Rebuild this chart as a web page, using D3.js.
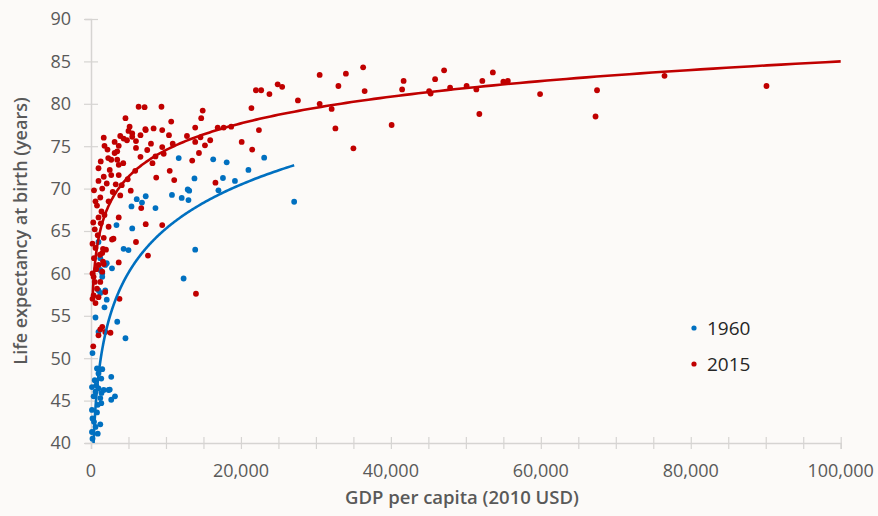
<!DOCTYPE html>
<html><head><meta charset="utf-8">
<script src="https://cdn.jsdelivr.net/npm/d3@7"></script>
<style>
html,body{margin:0;padding:0;background:#fcfaf8;}
svg{display:block;}
</style></head><body>
<svg id="chart" width="878" height="516"></svg>
<script>
// ---- data (GDP per capita in 2010 USD, life expectancy in years) ----
const points1960 = [[27100,68.45],[23100,73.65],[21000,72.2],[19200,70.9],[18100,73.1],[17600,71.25],[17000,69.8],[16300,73.45],[13900,62.8],[13800,71.2],[13100,69.75],[12900,69.9],[13000,68.65],[12350,59.4],[12100,68.9],[11700,73.6],[10800,69.25],[8600,67.7],[7300,69.1],[6800,68.35],[6100,68.75],[5500,65.3],[5400,67.9],[5000,62.75],[4600,52.35],[4350,62.9],[3500,54.3],[3400,65.7],[3200,45.5],[2800,60.6],[2700,47.8],[2700,45.1],[2500,46.3],[2350,46.25],[2100,61.2],[2100,56.9],[1900,61.0],[1900,58.0],[1800,56.0],[1700,46.25],[1500,60.0],[1500,59.6],[1500,48.7],[1370,47.6],[1370,44.7],[1240,61.8],[1240,57.7],[1240,45.3],[1240,42.2],[1240,60.4],[1000,63.7],[1000,58.0],[1000,53.1],[1000,48.2],[1000,46.45],[900,41.1],[800,48.8],[800,43.6],[600,54.8],[600,46.05],[600,41.9],[500,47.4],[350,45.5],[200,50.6],[200,42.9],[200,40.5],[130,46.6],[130,43.9],[130,41.3],[1100,48.6],[700,46.8],[1400,45.9],[900,44.5],[400,42.5]];
const points2015 = [[90100,82.1],[76500,83.3],[67500,81.6],[67300,78.5],[59900,81.15],[55000,82.6],[55600,82.7],[53600,83.7],[52200,82.7],[51800,78.8],[51400,81.7],[50100,82.1],[47900,81.9],[47100,83.95],[45900,82.9],[45300,81.2],[45100,81.5],[41700,82.7],[41500,81.7],[40100,77.5],[36500,81.5],[36300,84.3],[35000,74.75],[34000,83.55],[33000,82.1],[32600,77.1],[32100,79.4],[30500,80.0],[30500,83.4],[27600,80.4],[25500,82.0],[24900,82.3],[23800,81.15],[22700,81.6],[22000,81.6],[22400,76.9],[21500,74.6],[21400,79.5],[20100,75.5],[18700,77.3],[17700,77.2],[16900,77.2],[16600,70.7],[15900,75.7],[15200,75.1],[14900,79.2],[14700,78.3],[14600,76.05],[14400,74.2],[14000,57.6],[13900,77.2],[13900,75.5],[13500,73.3],[12800,76.2],[11100,71.0],[10900,75.3],[10700,77.9],[10500,72.1],[10400,76.3],[9500,76.9],[9500,74.9],[9700,74.1],[9500,65.7],[9400,79.65],[8700,71.3],[8600,73.8],[8350,77.1],[8200,73.0],[8000,75.3],[7600,62.1],[7500,74.55],[7300,76.9],[7300,65.8],[7150,79.6],[7250,77.0],[6700,67.7],[6600,76.3],[6600,73.75],[6350,79.65],[6000,75.6],[6000,74.8],[6000,63.7],[5900,72.1],[5500,76.1],[5500,76.5],[5300,69.75],[5150,77.3],[5000,76.8],[4900,71.1],[4800,75.7],[4600,78.3],[4350,75.9],[4100,70.4],[3900,76.2],[3900,69.2],[3800,57.0],[3700,75.05],[3700,72.8],[3700,71.6],[3700,66.6],[3700,61.3],[3500,74.4],[3500,73.4],[3150,75.5],[3150,74.2],[3000,64.1],[2900,69.6],[2700,73.4],[2700,71.6],[2600,53.0],[2350,65.5],[2350,68.5],[2300,73.6],[2100,70.6],[1900,53.1],[1800,75.05],[1700,76.0],[1700,71.4],[1600,61.4],[1500,70.0],[1500,53.7],[1240,68.95],[1240,53.4],[1000,72.4],[1000,70.9],[1000,52.7],[600,68.5],[300,51.4],[1000,66.6],[1700,64.2],[2800,64.0],[600,63.0],[1500,62.4],[1600,62.9],[1000,61.0],[1700,61.1],[350,59.6],[1240,59.0],[350,57.4],[1000,57.2],[800,68.0],[300,66.0],[500,65.2],[1300,65.9],[900,64.5],[200,63.5],[1200,62.2],[400,61.8],[700,60.5],[200,60.0],[1500,60.2],[500,59.0],[800,58.2],[1900,57.8],[200,57.0],[600,56.5],[1400,67.3],[400,69.8],[1800,66.9],[2000,62.8],[2200,74.6],[2500,72.2],[1300,73.2],[4300,73.0],[3300,70.5]];
// logarithmic trendline coefficients: life = a + b * ln(gdp)
const trend1960 = {a: -3.8, b: 7.5, from: 130, to: 27100};
const trend2015 = {a: 32.73, b: 4.54, from: 200, to: 100000};
const seriesNames = ["1960", "2015"];
const seriesColors = ["#0070c0", "#c00000"];
const xTickValues = [0, 20000, 40000, 60000, 80000, 100000];
const xMinorStep = 5000;
const yTickValues = [40, 45, 50, 55, 60, 65, 70, 75, 80, 85, 90];
const xTitle = "GDP per capita (2010 USD)";
const yTitle = "Life expectancy at birth (years)";

// ---- layout ----
const svg = d3.select("#chart");
const W = 878, H = 516;
const plot = {left: 91, right: 840.7, top: 19, bottom: 443};
svg.append("rect").attr("width", W).attr("height", H).attr("fill", "#fcfaf8");

const x = d3.scaleLinear().domain([0, 100000]).range([plot.left, plot.right]);
const y = d3.scaleLinear().domain([40, 90]).range([plot.bottom, plot.top]);

const axisColor = "#d6d4d2";
const labelColor = "#595959";
const font = "'Open Sans', 'Liberation Sans', sans-serif";

// x axis
const xAxisG = svg.append("g").attr("transform", `translate(0,${plot.bottom})`)
  .call(d3.axisBottom(x).tickValues(d3.range(0, 100001, xMinorStep)).tickSize(6).tickFormat(""));
xAxisG.select(".domain").attr("stroke", axisColor).attr("stroke-width", 1.5);
xAxisG.selectAll(".tick line").attr("stroke", axisColor).attr("stroke-width", 1.2).attr("y1", -6).attr("y2", 6);
svg.append("g").selectAll("text").data(xTickValues).join("text")
  .attr("x", d => x(d)).attr("y", 477)
  .attr("text-anchor", "middle")
  .attr("font-family", font).attr("font-size", 18).attr("fill", labelColor)
  .text(d => d3.format(",")(d));

// y axis
const yAxisG = svg.append("g").attr("transform", `translate(${plot.left},0)`)
  .call(d3.axisLeft(y).tickValues(yTickValues).tickSize(6).tickFormat(""));
yAxisG.select(".domain").attr("stroke", axisColor).attr("stroke-width", 1.5);
yAxisG.selectAll(".tick line").attr("stroke", axisColor).attr("stroke-width", 1.2).attr("x1", -7).attr("x2", 7);
svg.append("g").selectAll("text").data(yTickValues).join("text")
  .attr("x", 71).attr("y", d => y(d)).attr("dy", "0.36em")
  .attr("text-anchor", "end")
  .attr("font-family", font).attr("font-size", 18).attr("fill", labelColor)
  .text(d => d);

// titles
svg.append("text").attr("x", 462).attr("y", 504).attr("text-anchor", "middle")
  .attr("font-family", font).attr("font-size", 18.5).attr("font-weight", 600).attr("fill", labelColor)
  .text(xTitle);
svg.append("text").attr("transform", "translate(27,231) rotate(-90)").attr("text-anchor", "middle")
  .attr("font-family", font).attr("font-size", 18).attr("font-weight", 600).attr("fill", labelColor)
  .text(yTitle);

// clip
svg.append("clipPath").attr("id", "plotclip").append("rect")
  .attr("x", plot.left).attr("y", plot.top).attr("width", plot.right - plot.left + 2).attr("height", plot.bottom - plot.top);

// points
const series = [points1960, points2015];
series.forEach((pts, i) => {
  svg.append("g").selectAll("circle").data(pts).join("circle")
    .attr("cx", d => x(d[0])).attr("cy", d => y(d[1])).attr("r", 2.9)
    .attr("fill", seriesColors[i]);
});

// logarithmic trendlines
[trend1960, trend2015].forEach((t, i) => {
  const lx = d3.scaleLog().domain([t.from, t.to]);
  const samples = d3.range(0, 301).map(k => lx.invert(k / 300));
  const line = d3.line().x(g => x(g)).y(g => y(t.a + t.b * Math.log(g)));
  svg.append("path").datum(samples).attr("d", line)
    .attr("fill", "none").attr("stroke", seriesColors[i]).attr("stroke-width", 2.6)
    .attr("clip-path", "url(#plotclip)");
});

// legend
const legend = svg.append("g");
seriesNames.forEach((name, i) => {
  const ly = 328 + i * 36;
  legend.append("circle").attr("cx", 694).attr("cy", ly).attr("r", 2.6).attr("fill", seriesColors[i]);
  legend.append("text").attr("x", 707).attr("y", ly + 7)
    .attr("font-family", font).attr("font-size", 19).attr("fill", "#262626").text(name);
});
</script>
</body></html>
